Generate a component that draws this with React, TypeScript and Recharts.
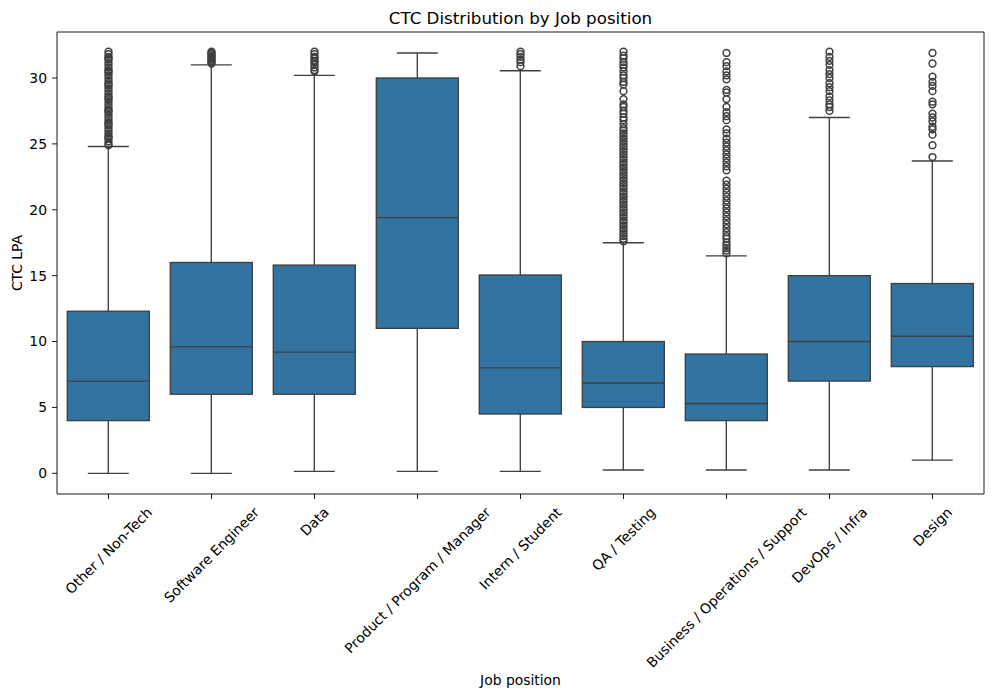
import React from 'react';
import { ComposedChart, Bar, Scatter, XAxis, YAxis } from 'recharts';

const jobs = [
  'Other / Non-Tech',
  'Software Engineer',
  'Data',
  'Product / Program / Manager',
  'Intern / Student',
  'QA / Testing',
  'Business / Operations / Support',
  'DevOps / Infra',
  'Design',
];
const whiskerLow = [0, 0, 0.15, 0.15, 0.15, 0.25, 0.25, 0.25, 1.0];
const q1 = [4.0, 6.0, 6.0, 11.0, 4.5, 5.0, 4.0, 7.0, 8.1];
const median = [7.0, 9.6, 9.2, 19.4, 8.0, 6.85, 5.3, 10.0, 10.4];
const q3 = [12.3, 16.0, 15.8, 30.0, 15.05, 10.0, 9.05, 15.0, 14.4];
const whiskerHigh = [24.8, 31.0, 30.2, 31.9, 30.55, 17.5, 16.5, 27.0, 23.7];

const outOther = [24.9, 25.0, 25.2, 25.4, 25.5, 25.6, 25.8, 26.0, 26.2, 26.4, 26.5, 26.6, 26.8, 27.0, 27.2, 27.4, 27.5, 27.6, 27.8, 28.0, 28.2, 28.4, 28.5, 28.6, 28.8, 29.0, 29.2, 29.4, 29.5, 29.6, 29.8, 30.0, 30.2, 30.4, 30.5, 30.6, 30.8, 31.0, 31.2, 31.4, 31.5, 31.6, 31.8, 32.0];
const outSoftware = [31.1, 31.2, 31.3, 31.4, 31.5, 31.6, 31.7, 31.8, 31.9, 32.0];
const outData = [30.5, 30.6, 30.8, 31.0, 31.2, 31.3, 31.5, 31.6, 31.8, 32.0];
const outProduct: number[] = [];
const outIntern = [30.9, 31.2, 31.4, 31.6, 31.8, 32.0];
const outQA = [17.6, 17.8, 18.0, 18.2, 18.4, 18.6, 18.8, 19.0, 19.2, 19.4, 19.6, 19.8, 20.0, 20.2, 20.4, 20.6, 20.8, 21.0, 21.2, 21.4, 21.6, 21.8, 22.0, 22.2, 22.4, 22.6, 22.8, 23.0, 23.2, 23.4, 23.6, 23.8, 24.0, 24.2, 24.4, 24.6, 24.8, 25.0, 25.2, 25.4, 25.6, 25.8, 26.0, 26.2, 26.5, 26.8, 27.0, 27.3, 27.5, 27.8, 28.0, 28.4, 29.0, 29.5, 29.7, 30.0, 30.2, 30.5, 30.8, 31.0, 31.2, 31.5, 31.7, 32.0];
const outBusiness = [16.7, 16.9, 17.1, 17.3, 17.5, 17.8, 18.0, 18.3, 18.6, 18.9, 19.2, 19.5, 19.8, 20.1, 20.4, 20.7, 21.0, 21.3, 21.6, 21.9, 22.2, 23.0, 23.3, 23.6, 23.9, 24.2, 24.5, 24.8, 25.1, 25.4, 25.8, 26.1, 26.8, 27.1, 27.4, 27.8, 28.4, 28.9, 29.1, 29.9, 30.2, 30.5, 30.9, 31.2, 31.9];
const outDevOps = [27.5, 27.8, 28.0, 28.3, 28.6, 29.0, 29.3, 29.6, 30.0, 30.3, 30.6, 31.0, 31.3, 31.6, 32.0];
const outDesign = [24.0, 24.9, 25.7, 26.1, 26.3, 26.7, 27.0, 27.3, 28.0, 28.2, 29.0, 29.4, 29.7, 30.1, 31.1, 31.9];

const outliers = [outOther, outSoftware, outData, outProduct, outIntern, outQA, outBusiness, outDevOps, outDesign];
const yTicks = [0, 5, 10, 15, 20, 25, 30];

const boxData = jobs.map((job, i) => ({
  idx: i,
  job,
  range: [whiskerLow[i], whiskerHigh[i]],
  q1: q1[i],
  median: median[i],
  q3: q3[i],
}));
const flierData = jobs.flatMap((job, i) => outliers[i].map((v) => ({ idx: i, v })));
const xTicks = jobs.map((_, i) => i);

const FS = 13.9;
const FONT = '"DejaVu Sans", sans-serif';
const LINE = '#3f3f3f';
const FILL = '#3274a1';

let ctx: CanvasRenderingContext2D | null = null;
function measure(t: string) {
  if (!ctx) ctx = document.createElement('canvas').getContext('2d');
  if (!ctx) return t.length * FS * 0.6;
  ctx.font = `${FS}px "DejaVu Sans"`;
  return ctx.measureText(t).width;
}

function XTick(props: any) {
  const { x, y, payload } = props;
  const label = jobs[payload.value];
  if (!label) return null;
  const w = measure(label);
  const h = FS * 1.17;
  const s = (w + h) / Math.SQRT2;
  const cx = x;
  const cy = y + s / 2;
  return (
    <text
      x={cx}
      y={cy}
      textAnchor="middle"
      dominantBaseline="central"
      transform={`rotate(-45 ${cx} ${cy})`}
      fontSize={FS}
      fontFamily={FONT}
      fill="#000"
    >
      {label}
    </text>
  );
}

function BoxShape(props: any) {
  const { x, y, width, height, payload } = props;
  if (payload == null) return null;
  const top = Math.min(y, y + height);
  const h = Math.abs(height);
  const [lo, hi] = payload.range;
  const pix = (v: number) => top + ((hi - v) / (hi - lo)) * h;
  const cx = x + width / 2;
  const capW = width / 2;
  const yQ1 = pix(payload.q1);
  const yQ3 = pix(payload.q3);
  const yMed = pix(payload.median);
  const yLo = pix(lo);
  const yHi = pix(hi);
  const sw = 1.35;
  return (
    <g>
      <line x1={cx} x2={cx} y1={yQ3} y2={yHi} stroke={LINE} strokeWidth={sw} />
      <line x1={cx} x2={cx} y1={yQ1} y2={yLo} stroke={LINE} strokeWidth={sw} />
      <line x1={cx - capW / 2} x2={cx + capW / 2} y1={yHi} y2={yHi} stroke={LINE} strokeWidth={sw} />
      <line x1={cx - capW / 2} x2={cx + capW / 2} y1={yLo} y2={yLo} stroke={LINE} strokeWidth={sw} />
      <rect x={x} y={yQ3} width={width} height={yQ1 - yQ3} fill={FILL} stroke={LINE} strokeWidth={sw} />
      <line x1={x} x2={x + width} y1={yMed} y2={yMed} stroke={LINE} strokeWidth={sw} />
    </g>
  );
}

function Flier(props: any) {
  const { cx, cy } = props;
  if (cx == null || cy == null) return null;
  return <circle cx={cx} cy={cy} r={3.4} fill="none" stroke={LINE} strokeWidth={1.5} />;
}

export default function App() {
  return (
    <div style={{ position: 'absolute', left: 0, top: 0, width: 996, height: 698, background: '#fff' }}>
      <div
        style={{
          position: 'absolute',
          left: 57,
          width: 927,
          top: 8,
          lineHeight: '20px',
          textAlign: 'center',
          fontFamily: FONT,
          fontSize: 16.7,
          color: '#000',
        }}
      >
        CTC Distribution by Job position
      </div>
      <ComposedChart
        width={996}
        height={698}
        data={boxData}
        margin={{ top: 31, right: 11, bottom: 0, left: 0 }}
        barCategoryGap="10%"
      >
        <XAxis
          dataKey="idx"
          type="number"
          domain={[-0.5, 8.5]}
          ticks={xTicks}
          interval={0}
          height={204}
          tick={<XTick />}
          tickSize={5}
          tickMargin={5}
          axisLine={{ stroke: '#000', strokeWidth: 0.9 }}
          tickLine={{ stroke: '#000', strokeWidth: 0.9 }}
          label={{
            content: (p: any) => {
              const vb = p.viewBox || { x: 57, width: 927 };
              const cx = vb.x + vb.width / 2;
              return (
                <text x={cx} y={680} textAnchor="middle" dominantBaseline="central" fontSize={FS} fontFamily={FONT} fill="#000">
                  Job position
                </text>
              );
            },
          }}
        />
        <XAxis
          xAxisId="top"
          orientation="top"
          type="number"
          dataKey="idx"
          domain={[-0.5, 8.5]}
          height={1}
          tick={false}
          tickLine={false}
          axisLine={{ stroke: '#000', strokeWidth: 0.9 }}
        />
        <YAxis
          type="number"
          domain={[-1.57, 33.49]}
          ticks={yTicks}
          width={57}
          tickSize={5}
          tickMargin={5}
          allowDataOverflow
          tick={{ fontSize: FS, fontFamily: FONT, fill: '#000' }}
          axisLine={{ stroke: '#000', strokeWidth: 0.9 }}
          tickLine={{ stroke: '#000', strokeWidth: 0.9 }}
          label={{
            content: (p: any) => {
              const vb = p.viewBox || { y: 32, height: 462 };
              const cy = vb.y + vb.height / 2;
              const cx = 17;
              return (
                <text
                  x={cx}
                  y={cy}
                  textAnchor="middle"
                  dominantBaseline="central"
                  transform={`rotate(-90 ${cx} ${cy})`}
                  fontSize={FS}
                  fontFamily={FONT}
                  fill="#000"
                >
                  CTC LPA
                </text>
              );
            },
          }}
        />
        <YAxis
          yAxisId="right"
          orientation="right"
          type="number"
          domain={[0, 1]}
          width={1}
          tick={false}
          tickLine={false}
          axisLine={{ stroke: '#000', strokeWidth: 0.9 }}
        />
        <Bar dataKey="range" shape={<BoxShape />} isAnimationActive={false} />
        <Scatter data={flierData} dataKey="v" shape={<Flier />} isAnimationActive={false} />
      </ComposedChart>
    </div>
  );
}
